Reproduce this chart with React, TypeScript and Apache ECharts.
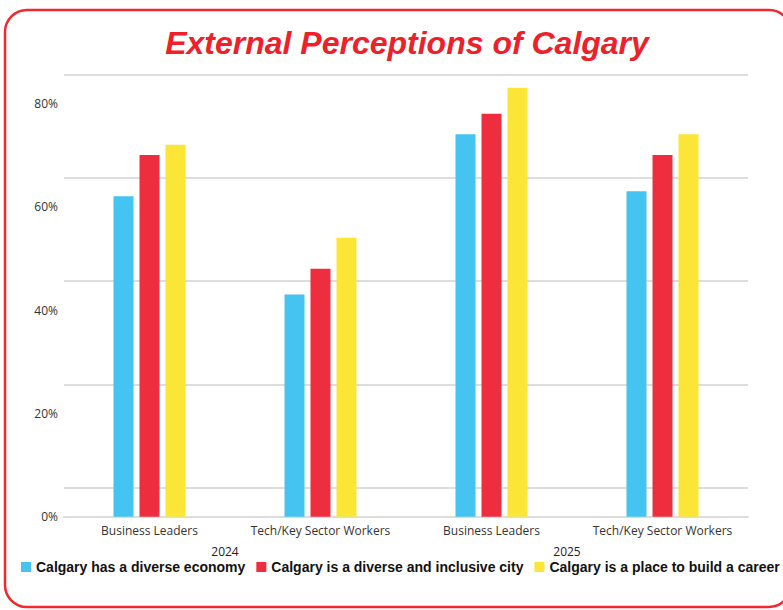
import React, { useEffect, useRef } from "react";
import * as echarts from "echarts";

const categories = ["Business Leaders", "Tech/Key Sector Workers", "Business Leaders", "Tech/Key Sector Workers"];
const years = ["2024", "2025"];
const seriesNames = [
  "Calgary has a diverse economy",
  "Calgary is a diverse and inclusive city",
  "Calgary is a place to build a career",
];
const diverseEconomy = [62, 43, 74, 63];
const inclusiveCity = [70, 48, 78, 70];
const buildCareer = [72, 54, 83, 74];
const yTicks = [0, 20, 40, 60, 80];
const gridLineValues = [5.6, 25.6, 45.6, 65.6, 85.6];
const colors = ["#45C4F1", "#EE2E3F", "#FBE536"];

export default function App() {
  const ref = useRef<HTMLDivElement>(null);
  useEffect(() => {
    if (!ref.current) return;
    const chart = echarts.init(ref.current, undefined, { renderer: "svg" });
    const values = [diverseEconomy, inclusiveCity, buildCareer];
    chart.setOption({
      animation: false,
      backgroundColor: "#ffffff",
      title: {
        text: "External Perceptions of Calgary",
        left: 402,
        top: 22,
        textAlign: "center",
        textStyle: {
          fontFamily: "Liberation Sans",
          fontWeight: "bold",
          fontStyle: "italic",
          fontSize: 32,
          color: "#EE2029",
        },
      },
      graphic: [
        {
          type: "rect",
          shape: { x: 5, y: 10, width: 786, height: 597, r: 22 },
          style: { fill: "none", stroke: "#EE2A30", lineWidth: 2.5 },
          silent: true,
          z: 100,
        },
      ],
      legend: {
        data: seriesNames,
        left: 16,
        top: 555,
        width: 775,
        icon: "rect",
        itemWidth: 10,
        itemHeight: 10,
        itemGap: 11,
        textStyle: {
          fontFamily: "Liberation Sans",
          fontWeight: "bold",
          fontSize: 14,
          color: "#111111",
        },
      },
      grid: { left: 64, right: 35, top: 74.4, bottom: 93.3, containLabel: false },
      xAxis: [
        {
          type: "category",
          data: categories,
          axisLine: { show: true, lineStyle: { color: "#dddddd", width: 2 } },
          axisTick: { show: false },
          axisLabel: { interval: 0, fontFamily: "Open Sans", fontSize: 12, color: "#333333", margin: 8 },
        },
        {
          type: "category",
          data: years,
          position: "bottom",
          offset: 21,
          axisLine: { show: false },
          axisTick: { show: false },
          axisLabel: { interval: 0, fontFamily: "Open Sans", fontSize: 12, color: "#222222", margin: 8, padding: [0, 20, 0, 0] },
        },
      ],
      yAxis: {
        type: "value",
        min: 0,
        max: 85.6,
        interval: 20,
        splitLine: { show: false },
        axisLine: { show: false },
        axisTick: { show: false },
        axisLabel: {
          fontFamily: "Open Sans",
          fontSize: 12,
          color: "#333333",
          margin: 6,
          formatter: (v: number) => (yTicks.indexOf(Math.round(v * 10) / 10) >= 0 ? v + "%" : ""),
        },
      },
      series: seriesNames.map((name, i) => ({
        name,
        type: "bar",
        data: values[i],
        barWidth: 20,
        barGap: "30%",
        itemStyle: { color: colors[i] },
        z: 3,
        markLine:
          i === 0
            ? {
                silent: true,
                symbol: ["none", "none"],
                z: 1,
                label: { show: false },
                lineStyle: { color: "#dddddd", width: 2, type: "solid" },
                emphasis: { disabled: true },
                data: gridLineValues.map((v) => ({ yAxis: v })),
              }
            : undefined,
      })),
    });
    return () => chart.dispose();
  }, []);
  return <div ref={ref} style={{ position: "absolute", left: 0, top: 0, width: 783, height: 610 }} />;
}
